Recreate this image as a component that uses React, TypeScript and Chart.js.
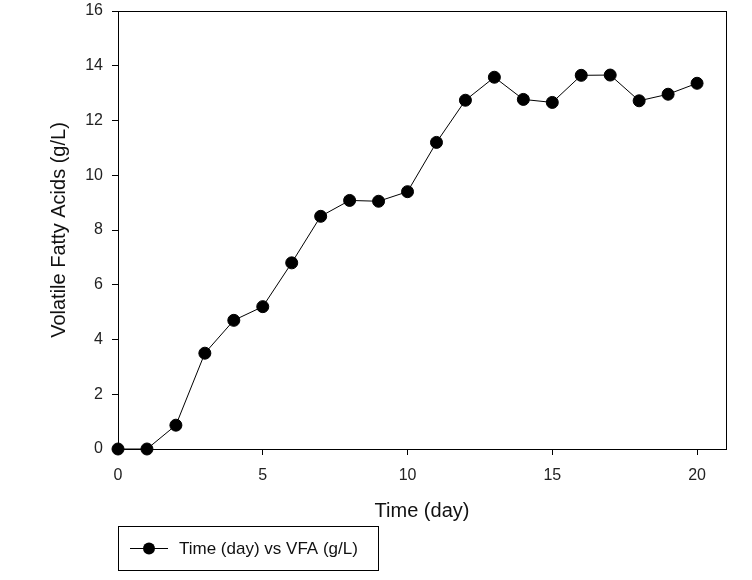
import React, { useEffect, useRef } from "react";
import { Chart, registerables } from "chart.js";

Chart.register(...registerables);

const days = [0, 1, 2, 3, 4, 5, 6, 7, 8, 9, 10, 11, 12, 13, 14, 15, 16, 17, 18, 19, 20];
const vfa = [0, 0, 0.87, 3.5, 4.7, 5.2, 6.8, 8.5, 9.08, 9.05, 9.4, 11.2, 12.74, 13.58, 12.77, 12.66, 13.65, 13.66, 12.72, 12.96, 13.36];
const xTickValues = [0, 5, 10, 15, 20];
const seriesLabel = "Time (day) vs VFA (g/L)";
const xTitle = "Time (day)";
const yTitle = "Volatile Fatty Acids (g/L)";

const FONT = "Arial, 'Liberation Sans', sans-serif";

const decorPlugin = {
  id: "decor",
  afterDraw(chart: any) {
    const ctx = chart.ctx as CanvasRenderingContext2D;
    const a = chart.chartArea;
    ctx.save();
    ctx.strokeStyle = "#000";
    ctx.lineWidth = 1;
    ctx.strokeRect(Math.round(a.left) + 0.5, Math.round(a.top) + 0.5, Math.round(a.right - a.left), Math.round(a.bottom - a.top));
    ctx.fillStyle = "#111";
    ctx.font = `20px ${FONT}`;
    ctx.textAlign = "center";
    ctx.textBaseline = "middle";
    ctx.fillText(xTitle, (a.left + a.right) / 2, 511);
    ctx.translate(59, (a.top + a.bottom) / 2);
    ctx.rotate(-Math.PI / 2);
    ctx.fillText(yTitle, 0, 0);
    ctx.restore();

    ctx.save();
    ctx.strokeStyle = "#000";
    ctx.lineWidth = 1;
    ctx.strokeRect(118.5, 526.5, 260, 44);
    ctx.beginPath();
    ctx.moveTo(130, 548.5);
    ctx.lineTo(168, 548.5);
    ctx.stroke();
    ctx.fillStyle = "#000";
    ctx.beginPath();
    ctx.arc(149, 548.5, 6, 0, Math.PI * 2);
    ctx.fill();
    ctx.fillStyle = "#111";
    ctx.font = `17px ${FONT}`;
    ctx.textAlign = "left";
    ctx.textBaseline = "middle";
    ctx.fillText(chart.data.datasets[0].label, 179, 549);
    ctx.restore();
  },
};

export default function App() {
  const ref = useRef<HTMLCanvasElement>(null);
  useEffect(() => {
    if (!ref.current) return;
    const chart = new Chart(ref.current, {
      type: "line",
      data: {
        datasets: [
          {
            label: seriesLabel,
            data: days.map((d, i) => ({ x: d, y: vfa[i] })),
            borderColor: "#000",
            borderWidth: 1,
            pointBackgroundColor: "#000",
            pointBorderColor: "#000",
            pointRadius: 6,
            pointHoverRadius: 6,
            clip: false as any,
          },
        ],
      },
      options: {
        responsive: false,
        animation: false,
        events: [],
        layout: { padding: { left: 0, top: 11, right: 26, bottom: 0 } },
        plugins: { legend: { display: false }, tooltip: { enabled: false } },
        scales: {
          x: {
            type: "linear",
            min: 0,
            max: 21,
            afterFit: (s: any) => {
              s.height = 131;
              s.paddingLeft = 0;
              s.paddingRight = 0;
            },
            afterBuildTicks: (s: any) => {
              s.ticks = xTickValues.map((v) => ({ value: v }));
            },
            grid: { drawOnChartArea: false, drawTicks: true, tickLength: 6, color: "#000" },
            border: { display: true, color: "#000", width: 1 },
            ticks: { color: "#222", font: { family: FONT, size: 16 }, padding: 11, maxRotation: 0 },
          },
          y: {
            type: "linear",
            min: 0,
            max: 16,
            afterFit: (s: any) => {
              s.width = 118;
              s.paddingTop = 0;
              s.paddingBottom = 0;
            },
            grid: { drawOnChartArea: false, drawTicks: true, tickLength: 6, color: "#000" },
            border: { display: true, color: "#000", width: 1 },
            ticks: { stepSize: 2, color: "#222", font: { family: FONT, size: 16 }, padding: 9 },
          },
        },
      },
      plugins: [decorPlugin],
    });
    return () => chart.destroy();
  }, []);
  return (
    <div style={{ position: "fixed", left: 0, top: 0, width: 752, height: 580, background: "#fff" }}>
      <canvas ref={ref} width={752} height={580} style={{ width: 752, height: 580 }} />
    </div>
  );
}
